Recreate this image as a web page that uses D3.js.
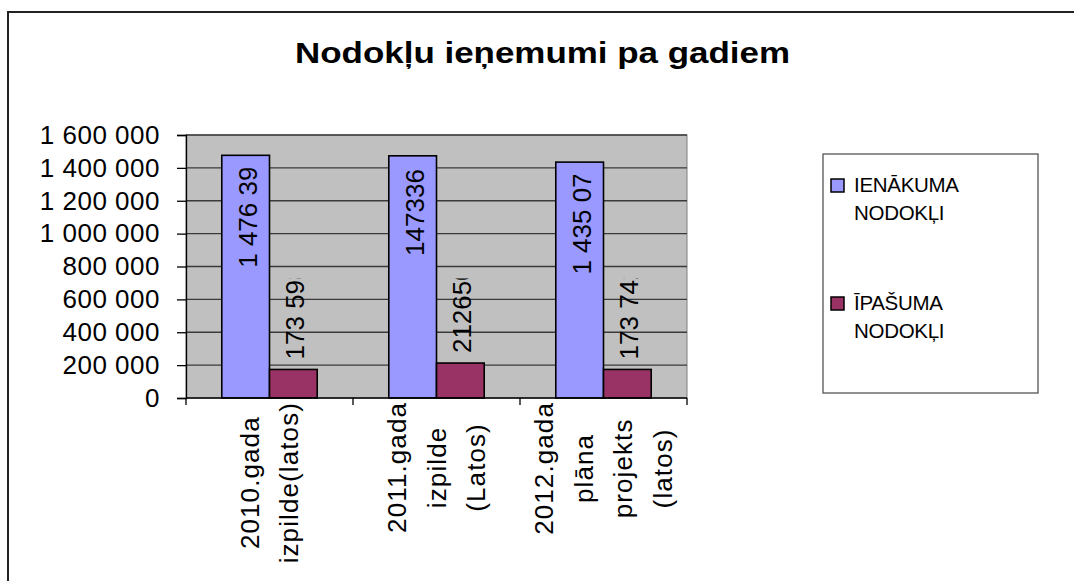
<!DOCTYPE html>
<html>
<head>
<meta charset="utf-8">
<script src="https://cdn.jsdelivr.net/npm/d3@7"></script>
<style>
  body { margin: 0; background: #fff; }
  text { font-family: Arial, "Liberation Sans", sans-serif; }
</style>
</head>
<body>
<div id="chart"></div>
<script>
"use strict"

const categoryLines = [
    ["2010.gada", "izpilde(latos)"],
    ["2011.gada", "izpilde", "(Latos)"],
    ["2012.gada", "plāna", "projekts", "(latos)"]
];
const seriesNames = ["IENĀKUMA NODOKĻI", "ĪPAŠUMA NODOKĻI"];
const legendLines = [["IENĀKUMA", "NODOKĻI"], ["ĪPAŠUMA", "NODOKĻI"]];
const incomeTax = [1476399, 1473369, 1435077];
const propertyTax = [173598, 212650, 173742];
const labelGrouped = [true, false, true];
const yTicks = [0, 200000, 400000, 600000, 800000, 1000000, 1200000, 1400000, 1600000];
const seriesColors = ["#9999ff", "#993366"];

const width = 1074;
const height = 581;
const plotLeft = 186;
const plotRight = 687;
const plotTop = 135;
const plotBottom = 398;

const locale = d3.formatLocale({ decimal: ",", thousands: " ", grouping: [3], currency: ["", ""] });
const fmtGrouped = locale.format(",d");
const fmtPlain = d3.format("d");

const svg = d3.select("#chart").append("svg")
    .attr("width", width)
    .attr("height", height);

// outer chart border (runs past the right and bottom edges)
svg.append("rect")
    .attr("x", 8).attr("y", 12)
    .attr("width", 1100).attr("height", 620)
    .attr("fill", "none")
    .attr("stroke", "#222")
    .attr("stroke-width", 2);

svg.append("text")
    .attr("x", 542.5).attr("y", 63)
    .attr("text-anchor", "middle")
    .attr("font-size", 29)
    .attr("font-weight", "bold")
    .attr("textLength", 495)
    .attr("lengthAdjust", "spacingAndGlyphs")
    .text("Nodokļu ieņemumi pa gadiem");

const x = d3.scaleBand()
    .domain(d3.range(categoryLines.length))
    .range([plotLeft, plotRight])
    .padding(0);

const xInner = d3.scaleBand()
    .domain(d3.range(seriesNames.length))
    .range([0, x.bandwidth()])
    .paddingInner(0)
    .paddingOuter(0.75);

const y = d3.scaleLinear()
    .domain([0, 1600000])
    .range([plotBottom, plotTop]);

// plot area
svg.append("rect")
    .attr("x", plotLeft).attr("y", plotTop)
    .attr("width", plotRight - plotLeft).attr("height", plotBottom - plotTop)
    .attr("fill", "#c0c0c0")
    .attr("stroke", "#808080")
    .attr("stroke-width", 1);

svg.append("g")
    .selectAll("line")
    .data(yTicks.filter(d => d > 0))
    .join("line")
        .attr("x1", plotLeft).attr("x2", plotRight)
        .attr("y1", d => y(d)).attr("y2", d => y(d))
        .attr("stroke", "#3a3a3a")
        .attr("stroke-width", 1.3);

// bars
const series = [incomeTax, propertyTax];
series.forEach((values, s) => {
    svg.append("g")
        .selectAll("rect")
        .data(values)
        .join("rect")
            .attr("x", (d, i) => x(i) + xInner(s))
            .attr("y", d => y(d))
            .attr("width", xInner.bandwidth())
            .attr("height", d => plotBottom - y(d))
            .attr("fill", seriesColors[s])
            .attr("stroke", "#000")
            .attr("stroke-width", 1.6);
});

// axes
const yAxis = d3.axisLeft(y)
    .tickValues(yTicks)
    .tickSize(9)
    .tickPadding(17)
    .tickFormat(d => fmtGrouped(d));

const yAxisG = svg.append("g")
    .attr("transform", `translate(${plotLeft},0)`)
    .call(yAxis);
yAxisG.select(".domain").attr("stroke", "#000").attr("stroke-width", 1.3);
yAxisG.selectAll(".tick line").attr("stroke", "#000").attr("stroke-width", 1.3);
yAxisG.selectAll(".tick text")
    .attr("font-size", 26)
    .attr("letter-spacing", 0.5)
    .attr("fill", "#000")
    .attr("font-family", "Arial, 'Liberation Sans', sans-serif");

const xAxisG = svg.append("g");
xAxisG.append("line")
    .attr("x1", plotLeft).attr("x2", plotRight)
    .attr("y1", plotBottom).attr("y2", plotBottom)
    .attr("stroke", "#000").attr("stroke-width", 1.3);
xAxisG.selectAll(".xtick")
    .data(d3.range(categoryLines.length + 1))
    .join("line")
        .attr("class", "xtick")
        .attr("x1", i => i < categoryLines.length ? x(i) : plotRight)
        .attr("x2", i => i < categoryLines.length ? x(i) : plotRight)
        .attr("y1", plotBottom).attr("y2", plotBottom + 7)
        .attr("stroke", "#000").attr("stroke-width", 1.3);

// category labels, rotated, one column per line
const lineStep = 39.5;
categoryLines.forEach((lines, i) => {
    const cx = x(i) + x.bandwidth() / 2;
    const g = svg.append("g");
    const texts = g.selectAll("text")
        .data(lines)
        .join("text")
            .attr("font-size", 26)
            .attr("letter-spacing", 1.1)
            .attr("text-anchor", "middle")
            .attr("dominant-baseline", "central")
            .text(d => d);
    const maxLen = d3.max(texts.nodes(), n => n.getComputedTextLength());
    const cy = plotBottom + 4 + maxLen / 2;
    texts.attr("transform", (d, j) => {
        const lx = cx + (j - (lines.length - 1) / 2) * lineStep;
        return `translate(${lx},${cy}) rotate(-90)`;
    });
});

// data labels, rotated and clipped like the original
let clipId = 0;
series.forEach((values, s) => {
    values.forEach((v, i) => {
        const cx = x(i) + xInner(s) + xInner.bandwidth() / 2 + 2;
        const label = labelGrouped[i] ? fmtGrouped(v) : fmtPlain(v);
        const g = svg.append("g");
        const t = g.append("text")
            .attr("font-size", 26)
            .attr("dominant-baseline", "central")
            .attr("text-anchor", "start")
            .text(label);
        const visible = t.node().getComputedTextLength() * 0.86;
        const startY = s === 0 ? y(v) + 13 + visible : y(v) - 10;
        g.attr("transform", `translate(${cx},${startY}) rotate(-90)`);
        const id = "clip" + (clipId++);
        g.append("clipPath")
            .attr("id", id)
            .append("rect")
                .attr("x", 0).attr("y", -20)
                .attr("width", visible).attr("height", 40);
        t.attr("clip-path", `url(#${id})`);
    });
});

// legend
const legend = svg.append("g");
legend.append("rect")
    .attr("x", 823).attr("y", 154)
    .attr("width", 215).attr("height", 239)
    .attr("fill", "#fff")
    .attr("stroke", "#555")
    .attr("stroke-width", 1.3);

const legendY = d3.scalePoint()
    .domain(d3.range(seriesNames.length))
    .range([192, 310]);

legendLines.forEach((lines, s) => {
    const base = legendY(s);
    legend.append("rect")
        .attr("x", 831).attr("y", base - 13)
        .attr("width", 13).attr("height", 13)
        .attr("fill", seriesColors[s])
        .attr("stroke", "#000")
        .attr("stroke-width", 1.5);
    legend.selectAll(`.leg-${s}`)
        .data(lines)
        .join("text")
            .attr("class", `leg-${s}`)
            .attr("x", 854)
            .attr("y", (d, j) => base + j * 28)
            .attr("font-size", 20.5)
            .attr("letter-spacing", -0.3)
            .text(d => d);
});
</script>
</body>
</html>
